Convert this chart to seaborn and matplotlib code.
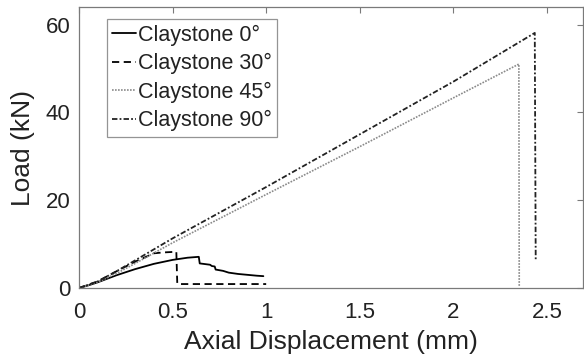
import numpy as np
import pandas as pd
import matplotlib
matplotlib.use('Agg')
import matplotlib.pyplot as plt
import seaborn as sns

# Load-displacement curves
x_0 = [0, 0.05, 0.1, 0.2, 0.3, 0.4, 0.5, 0.58, 0.64, 0.645, 0.70, 0.71, 0.725, 0.73, 0.77, 0.8, 0.85, 0.9, 0.95, 0.985]
y_0 = [0, 0.6, 1.3, 2.9, 4.3, 5.5, 6.4, 6.9, 7.1, 5.6, 5.3, 5.0, 4.9, 4.2, 3.9, 3.5, 3.2, 3.0, 2.8, 2.7]

x_30 = [0, 0.1, 0.2, 0.3, 0.4, 0.45, 0.52, 0.525, 0.54, 1.0]
y_30 = [0, 1.5, 3.8, 6.0, 7.9, 8.1, 8.25, 1.0, 0.9, 0.9]

x_45 = [0, 0.1, 0.2, 0.3, 0.5, 1.0, 1.5, 2.0, 2.35, 2.352]
y_45 = [0, 1.3, 3.3, 5.6, 10.3, 21.3, 32.2, 43.3, 51.0, 0.5]

x_90 = [0, 0.1, 0.2, 0.3, 0.5, 1.0, 1.5, 2.0, 2.435, 2.44]
y_90 = [0, 1.5, 3.8, 6.3, 11.3, 23.0, 35.0, 47.0, 58.1, 6.5]

labels = ['Claystone 0°', 'Claystone 30°', 'Claystone 45°', 'Claystone 90°']
x_ticks = [0, 0.5, 1, 1.5, 2, 2.5]
x_tick_labels = ['0', '0.5', '1', '1.5', '2', '2.5']
y_ticks = [0, 20, 40, 60]

sns.set_style('white')
plt.rcParams['font.family'] = ['Liberation Sans', 'DejaVu Sans']

fig = plt.figure(figsize=(5.84, 3.61), dpi=100)
ax = fig.add_axes([79 / 584, 1 - 288 / 361, (582.5 - 79) / 584, (288 - 7) / 361])

styles = [
    dict(color='black', linestyle='-', linewidth=1.3),
    dict(color='black', linestyle=(0, (4, 2.5)), linewidth=1.3),
    dict(color='#8a8a8a', linestyle=(0, (1, 0.8)), linewidth=1.2),
    dict(color='#222222', linestyle=(0, (3, 1.2, 1, 1.2)), linewidth=1.3),
]
series = [(x_0, y_0), (x_30, y_30), (x_45, y_45), (x_90, y_90)]
for (xs, ys), lab, st in zip(series, labels, styles):
    df = pd.DataFrame({'disp': xs, 'load': ys})
    sns.lineplot(data=df, x='disp', y='load', sort=False, estimator=None,
                 label=lab, ax=ax, **st)

ax.set_xlim(0, 2.69)
ax.set_ylim(0, 64)
ax.set_xticks(x_ticks)
ax.set_xticklabels(x_tick_labels)
ax.set_yticks(y_ticks)
ax.tick_params(direction='in', length=4, width=0.8, color='#7a7a7a',
               top=True, right=True, labelsize=16, labelcolor='#222222')
ax.tick_params(axis='x', pad=10)
ax.tick_params(axis='y', pad=6)
for sp in ax.spines.values():
    sp.set_color('#7a7a7a')
    sp.set_linewidth(0.9)

ax.set_xlabel('Axial Displacement (mm)', fontsize=19, color='#222222', labelpad=5)
ax.set_ylabel('Load (kN)', fontsize=19, color='#222222', labelpad=8)

leg = ax.legend(loc='upper left', bbox_to_anchor=(107 / 584, 1 - 19 / 361),
                bbox_transform=fig.transFigure, fontsize=15.5, frameon=True,
                fancybox=False, edgecolor='#7a7a7a', handlelength=1.1,
                handletextpad=0.1, labelspacing=0.35, borderpad=0.25,
                borderaxespad=0)
leg.get_frame().set_linewidth(0.9)
for t in leg.get_texts():
    t.set_color('#222222')

fig.savefig('out.png', dpi=100, facecolor='white')
